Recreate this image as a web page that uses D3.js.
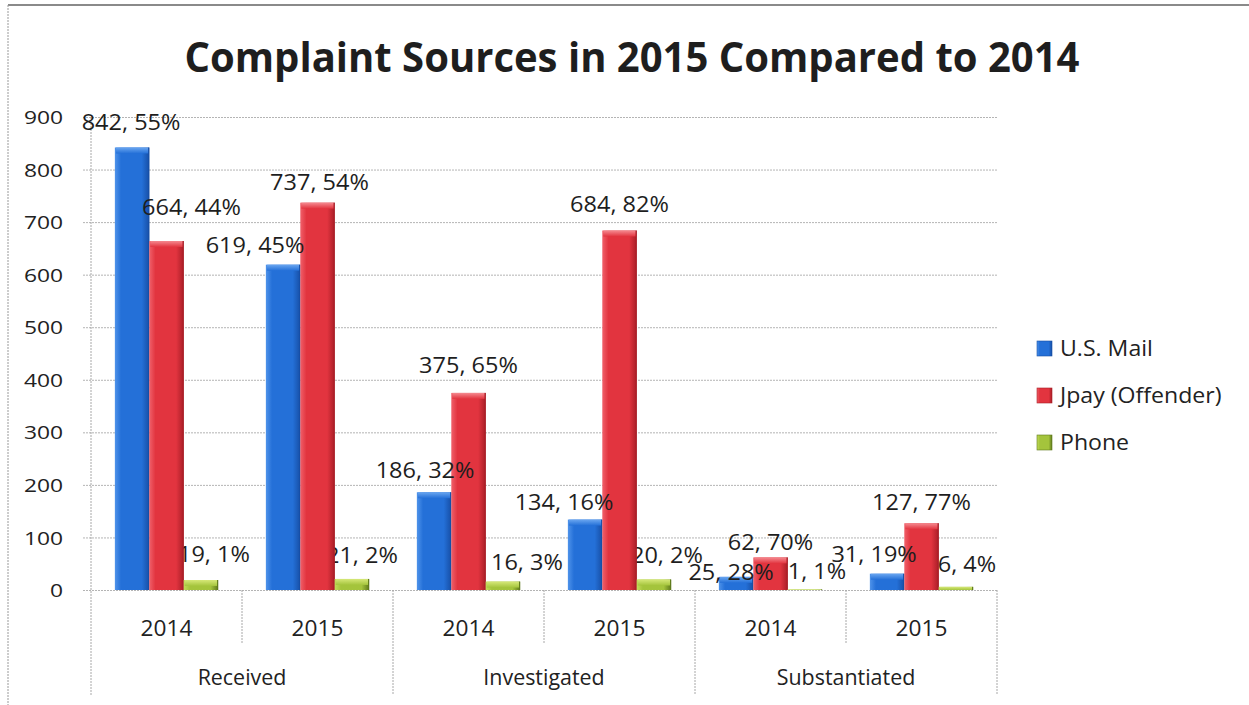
<!DOCTYPE html>
<html>
<head>
<meta charset="utf-8">
<script src="https://cdn.jsdelivr.net/npm/d3@7"></script>
<style>
  html, body { margin: 0; padding: 0; background: #fff; }
  svg { display: block; }
  text { font-family: "Open Sans", "DejaVu Sans", sans-serif; fill: #222; }
</style>
</head>
<body>
<svg id="chart" width="1249" height="705"></svg>
<script>
// ---- data ----
const groups = ["Received", "Investigated", "Substantiated"];
const years = ["2014", "2015"];
const seriesNames = ["U.S. Mail", "Jpay (Offender)", "Phone"];
const mailCounts = [842, 619, 186, 134, 25, 31];
const mailShares = [55, 45, 32, 16, 28, 19];
const jpayCounts = [664, 737, 375, 684, 62, 127];
const jpayShares = [44, 54, 65, 82, 70, 77];
const phoneCounts = [19, 21, 16, 20, 1, 6];
const phoneShares = [1, 2, 3, 2, 1, 4];
const yTicks = [0, 100, 200, 300, 400, 500, 600, 700, 800, 900];
const titleText = "Complaint Sources in 2015 Compared to 2014";

// ---- styling / layout ----
const palette = [
  { light: "#4f93ea", main: "#2470d8", dark: "#174fa6", cap: "#6aa6f0" },
  { light: "#f0606a", main: "#e2343f", dark: "#a91e27", cap: "#f58a90" },
  { light: "#c4dc5a", main: "#a4c43c", dark: "#5f7a1c", cap: "#d6e878" }
];
// label placement nudges: [dx from bar centre, baseline gap above bar top]
const labelNudge = [
  [[-1, 17], [25, 26], [13, 18]],
  [[-28, 12], [2, 13], [10, 16]],
  [[-9, 14], [0, 20], [24, 12]],
  [[-21, 10], [0, 19], [13, 16]],
  [[-5, -3], [0, 7], [12, 10]],
  [[-13, 12], [0, 13], [11, 15]]
];

const plot = { left: 91, right: 997, top: 117, bottom: 590 };

const svg = d3.select("#chart");

// build the per-subcategory table from the named arrays
const subcats = [];
groups.forEach(g => years.forEach(y => subcats.push({ group: g, year: y, key: g + "|" + y })));
const counts = [mailCounts, jpayCounts, phoneCounts];
const shares = [mailShares, jpayShares, phoneShares];
const bars = [];
subcats.forEach((sc, i) => {
  seriesNames.forEach((s, j) => {
    bars.push({ cat: i, key: sc.key, series: j, name: s, value: counts[j][i], share: shares[j][i] });
  });
});

// ---- scales ----
const x0 = d3.scaleBand().domain(subcats.map(d => d.key)).range([plot.left, plot.right]).paddingInner(0).paddingOuter(0);
const x1 = d3.scaleBand().domain(d3.range(seriesNames.length))
  .range([x0.bandwidth() * 0.158, x0.bandwidth() * 0.842]).padding(0);
const y = d3.scaleLinear().domain([0, 900]).range([plot.bottom, plot.top]);

// ---- gradients ----
const defs = svg.append("defs");
palette.forEach((c, i) => {
  const g = defs.append("linearGradient").attr("id", "bar" + i).attr("x1", 0).attr("x2", 1).attr("y1", 0).attr("y2", 0);
  g.append("stop").attr("offset", 0).attr("stop-color", c.light);
  g.append("stop").attr("offset", 0.18).attr("stop-color", c.main);
  g.append("stop").attr("offset", 0.78).attr("stop-color", c.main);
  g.append("stop").attr("offset", 1).attr("stop-color", c.dark);
  const t = defs.append("linearGradient").attr("id", "cap" + i).attr("x1", 0).attr("x2", 0).attr("y1", 0).attr("y2", 1);
  t.append("stop").attr("offset", 0).attr("stop-color", c.cap);
  t.append("stop").attr("offset", 1).attr("stop-color", c.main);
});

// ---- frame ----
svg.append("line").attr("x1", 8).attr("x2", 1249).attr("y1", 5).attr("y2", 5)
  .attr("stroke", "#8a8a8a").attr("stroke-width", 2);
svg.append("line").attr("x1", 8).attr("x2", 8).attr("y1", 5).attr("y2", 705)
  .attr("stroke", "#9a9a9a").attr("stroke-dasharray", "2,1");

// ---- title ----
svg.append("text")
  .attr("x", 632).attr("y", 72)
  .attr("text-anchor", "middle")
  .attr("textLength", 895).attr("lengthAdjust", "spacingAndGlyphs")
  .style("font-size", "41px").style("font-weight", "700").style("fill", "#1e1e1e")
  .text(titleText);

// ---- gridlines & y axis ----
const yAxis = d3.axisLeft(y).tickValues(yTicks).tickSize(plot.right - plot.left + 9).tickPadding(0).tickFormat(d3.format("d"));
const gy = svg.append("g").attr("transform", `translate(${plot.right},0)`).call(yAxis);
gy.select(".domain").remove();
gy.selectAll(".tick line").attr("stroke", "#b4b4b4").attr("stroke-dasharray", "2,1");
gy.selectAll(".tick text").remove();
gy.selectAll(".tick").append("text")
  .attr("text-anchor", "end")
  .attr("dy", "0.35em")
  .each(function () {
    const tickX = -(plot.right - 63);
    d3.select(this).attr("transform", `translate(${tickX},0) scale(1.2,1)`);
  })
  .style("font-size", "19px").style("fill", "#222")
  .text(d => d);

// vertical axis line
svg.append("line").attr("x1", plot.left).attr("x2", plot.left).attr("y1", plot.top).attr("y2", 695)
  .attr("stroke", "#a8a8a8").attr("stroke-dasharray", "2,1");

// ---- category axis (two levels) ----
const gx = svg.append("g");
subcats.forEach((sc, i) => {
  const bx = x0(sc.key);
  if (i > 0) {
    const long = sc.year === years[0];
    gx.append("line").attr("x1", bx).attr("x2", bx).attr("y1", plot.bottom).attr("y2", long ? 695 : 643)
      .attr("stroke", "#a8a8a8").attr("stroke-dasharray", "2,1");
  }
  gx.append("text")
    .attr("text-anchor", "middle")
    .attr("transform", `translate(${bx + x0.bandwidth() / 2},636) scale(1.08,1)`)
    .style("font-size", "21px")
    .text(sc.year);
});
gx.append("line").attr("x1", plot.right).attr("x2", plot.right).attr("y1", plot.bottom).attr("y2", 695)
  .attr("stroke", "#a8a8a8").attr("stroke-dasharray", "2,1");
groups.forEach(g => {
  const a = x0(g + "|" + years[0]);
  const b = x0(g + "|" + years[years.length - 1]) + x0.bandwidth();
  gx.append("text")
    .attr("text-anchor", "middle")
    .attr("transform", `translate(${(a + b) / 2},685) scale(1.02,1)`)
    .style("font-size", "21px")
    .text(g);
});

// ---- data labels ----
function labelPos(d) {
  const cx = x0(d.key) + x1(d.series) + x1.bandwidth() / 2;
  const nd = labelNudge[d.cat][d.series];
  return [cx + nd[0], y(d.value) - nd[1]];
}
function drawLabels(layer, data) {
  layer.selectAll("text").data(data).join("text")
    .attr("text-anchor", "middle")
    .attr("transform", d => { const p = labelPos(d); return `translate(${p[0]},${p[1]}) scale(1.12,1)`; })
    .style("font-size", "21px").style("fill", "#1e1e1e")
    .text(d => `${d.value}, ${d.share}%`);
}

// phone labels sit behind the columns
drawLabels(svg.append("g"), bars.filter(d => d.series === 2));

// ---- columns ----
const gb = svg.append("g");
const col = gb.selectAll("g.col").data(bars).join("g").attr("class", "col");
col.append("rect")
  .attr("x", d => x0(d.key) + x1(d.series))
  .attr("y", d => y(d.value))
  .attr("width", x1.bandwidth())
  .attr("height", d => y(0) - y(d.value))
  .attr("fill", d => `url(#bar${d.series})`);
col.append("rect")
  .attr("x", d => x0(d.key) + x1(d.series) + 1)
  .attr("y", d => y(d.value))
  .attr("width", x1.bandwidth() - 2)
  .attr("height", d => Math.min(6, y(0) - y(d.value)))
  .attr("fill", d => `url(#cap${d.series})`);
col.append("line")
  .attr("x1", d => x0(d.key) + x1(d.series) + x1.bandwidth() - 0.5)
  .attr("x2", d => x0(d.key) + x1(d.series) + x1.bandwidth() - 0.5)
  .attr("y1", d => y(d.value))
  .attr("y2", y(0))
  .attr("stroke", d => palette[d.series].dark).attr("stroke-width", 1);

// remaining labels on top
drawLabels(svg.append("g"), bars.filter(d => d.series !== 2));

// ---- legend ----
const legendY = [349, 396, 443];
const lg = svg.append("g");
seriesNames.forEach((s, i) => {
  lg.append("rect").attr("x", 1037).attr("y", legendY[i] - 8).attr("width", 15).attr("height", 15)
    .attr("fill", `url(#bar${i})`).attr("stroke", palette[i].dark).attr("stroke-width", 0.6);
  lg.append("text")
    .attr("transform", `translate(1060,${legendY[i] + 7}) scale(1.1,1)`)
    .style("font-size", "21px")
    .text(s);
});
</script>
</body>
</html>
